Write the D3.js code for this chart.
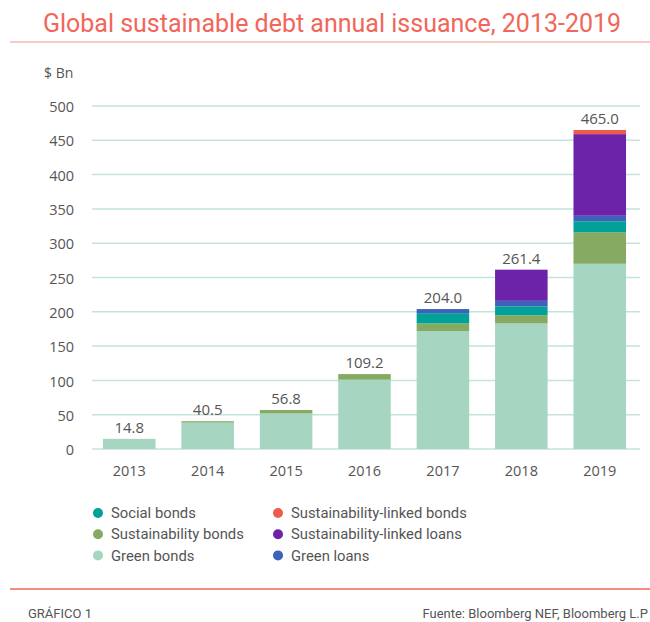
<!DOCTYPE html>
<html>
<head>
<meta charset="utf-8">
<script src="https://cdn.jsdelivr.net/npm/d3@7"></script>
<style>
  body { margin: 0; background: #fff; }
  text { font-family: Roboto, "Open Sans", sans-serif; }
</style>
</head>
<body>
<script>
// data ($ Bn)
var years = ["2013", "2014", "2015", "2016", "2017", "2018", "2019"];
var greenBonds = [14.8, 38.5, 51.8, 101, 172, 183, 270];
var sustainabilityBonds = [0, 2, 5, 8.2, 11, 12, 46];
var socialBonds = [0, 0, 0, 0, 15, 13, 16];
var greenLoans = [0, 0, 0, 0, 6, 8, 8];
var slLoans = [0, 0, 0, 0, 0, 45.4, 119];
var slBonds = [0, 0, 0, 0, 0, 0, 6];
var totals = [14.8, 40.5, 56.8, 109.2, 204.0, 261.4, 465.0];
var yTicks = [0, 50, 100, 150, 200, 250, 300, 350, 400, 450, 500];

var series = [
    {key: "green", name: "Green bonds", values: greenBonds, color: "#a6d5c1"},
    {key: "sust", name: "Sustainability bonds", values: sustainabilityBonds, color: "#87aa63"},
    {key: "social", name: "Social bonds", values: socialBonds, color: "#00a197"},
    {key: "gloans", name: "Green loans", values: greenLoans, color: "#3e62b9"},
    {key: "sll", name: "Sustainability-linked loans", values: slLoans, color: "#6d23a9"},
    {key: "slb", name: "Sustainability-linked bonds", values: slBonds, color: "#f05a4b"}
];

var rows = years.map(function (y, i) {
    var r = {year: y};
    series.forEach(function (s) { r[s.key] = s.values[i]; });
    return r;
});

var numFont = "'Open Sans', sans-serif";

var W = 650, H = 622;
var svg = d3.select("body").append("svg")
    .attr("width", W)
    .attr("height", H);

// title + rules
svg.append("text")
    .attr("x", 332).attr("y", 32)
    .attr("text-anchor", "middle")
    .style("font-size", "25px")
    .style("fill", "#f2665a")
    .text("Global sustainable debt annual issuance, 2013-2019");

svg.append("line")
    .attr("x1", 10).attr("x2", 650).attr("y1", 42).attr("y2", 42)
    .style("stroke", "#f9b8b0").style("stroke-width", 1.5);

svg.append("line")
    .attr("x1", 10).attr("x2", 650).attr("y1", 589).attr("y2", 589)
    .style("stroke", "#f2665a").style("stroke-width", 1.5);

// scales
x = d3.scaleBand().domain(years).range([92, 637]).paddingInner(0.33).paddingOuter(0.14);
y = d3.scaleLinear().domain([0, 500]).range([449, 106]);

var grid = svg.append("g");
grid.selectAll("line")
    .data(yTicks)
    .enter().append("line")
    .attr("x1", 92).attr("x2", 640)
    .attr("y1", function (d) { return y(d) })
    .attr("y2", function (d) { return y(d) })
    .style("stroke", "#c2e5d8")
    .style("stroke-width", 1.5);

var yAxis = svg.append("g")
    .attr("transform", "translate(74,1)")
    .call(d3.axisLeft(y).tickValues(yTicks).tickSize(0).tickPadding(0));
yAxis.select(".domain").remove();
yAxis.selectAll("text")
    .style("font-family", numFont)
    .style("font-size", "14.5px")
    .style("fill", "#555");

svg.append("text")
    .attr("x", 44).attr("y", 78)
    .style("font-family", numFont)
    .style("font-size", "14px")
    .style("fill", "#555")
    .text("$ Bn");

var xAxis = svg.append("g")
    .attr("transform", "translate(0,476)")
    .call(d3.axisBottom(x).tickSize(0).tickPadding(0));
xAxis.select(".domain").remove();
xAxis.selectAll("text")
    .attr("dy", "0")
    .style("font-family", numFont)
    .style("font-size", "14.5px")
    .style("fill", "#555");

// stacked bars
var stack = d3.stack().keys(series.map(function (s) { return s.key }));
var layers = stack(rows);

svg.append("g").selectAll("g")
    .data(layers)
    .enter().append("g")
    .style("fill", function (d, i) { return series[i].color })
    .selectAll("rect")
    .data(function (d) { return d })
    .enter().append("rect")
    .attr("x", function (d) { return x(d.data.year) })
    .attr("width", x.bandwidth())
    .attr("y", function (d) { return y(d[1]) })
    .attr("height", function (d) { return y(d[0]) - y(d[1]) });

// totals
svg.append("g").selectAll("text")
    .data(totals)
    .enter().append("text")
    .attr("x", function (d, i) { return x(years[i]) + x.bandwidth() / 2 })
    .attr("y", function (d) { return y(d) - 6 })
    .attr("text-anchor", "middle")
    .style("font-family", numFont)
    .style("font-size", "15px")
    .style("fill", "#555")
    .text(function (d) { return d3.format(".1f")(d) });

// legend
var legendItems = [
    {s: series[2], col: 0, row: 0},
    {s: series[1], col: 0, row: 1},
    {s: series[0], col: 0, row: 2},
    {s: series[5], col: 1, row: 0},
    {s: series[4], col: 1, row: 1},
    {s: series[3], col: 1, row: 2}
];
var legend = svg.append("g");
var lg = legend.selectAll("g")
    .data(legendItems)
    .enter().append("g")
    .attr("transform", function (d) {
        return "translate(" + (d.col == 0 ? 98 : 278) + "," + (513 + d.row * 21.2) + ")";
    });
lg.append("circle")
    .attr("r", 5)
    .style("fill", function (d) { return d.s.color });
lg.append("text")
    .attr("x", 13)
    .attr("dy", "0.35em")
    .style("font-size", "14.8px")
    .style("fill", "#555")
    .text(function (d) { return d.s.name });

// footer
svg.append("text")
    .attr("x", 28).attr("y", 618)
    .style("font-size", "13px")
    .style("fill", "#555")
    .text("GRÁFICO 1");
svg.append("text")
    .attr("x", 648).attr("y", 618)
    .attr("text-anchor", "end")
    .style("font-size", "13px")
    .style("fill", "#555")
    .text("Fuente: Bloomberg NEF, Bloomberg L.P");
</script>
</body>
</html>
